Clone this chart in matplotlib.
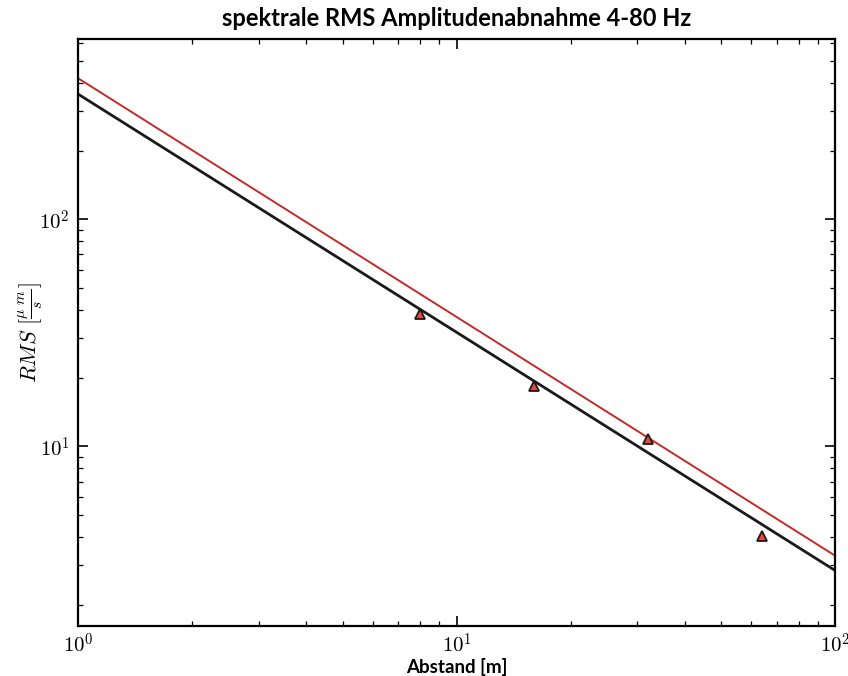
import matplotlib
matplotlib.use('Agg')
import matplotlib.pyplot as plt
from matplotlib.ticker import FuncFormatter
import numpy as np

plt.rcParams['mathtext.fontset'] = 'cm'

# measured RMS amplitudes at the geophone distances
abstand = [8, 16, 32, 64]
rms = [38.4, 18.5, 10.8, 4.04]

# power-law fits, end points at 1 m and 100 m
fit_x = [1, 100]
fit_black = [356, 2.84]
fit_red = [418, 3.30]

fig = plt.figure(figsize=(8.48, 6.76), dpi=100)
ax = fig.add_axes([0.092, 0.074, 0.893, 0.869])

ax.loglog(fit_x, fit_black, color='#1a1a1a', lw=2.0)
ax.loglog(fit_x, fit_red, color='#c42a2a', lw=1.4)
ax.loglog(abstand, rms, linestyle='none', marker='^', markersize=7,
          markerfacecolor='#e8473a', markeredgecolor='#1a1a1a', markeredgewidth=1.3)

ax.set_xlim(1, 100)
ax.set_ylim(1.62, 625)

# decade labels in computer modern
pow10 = FuncFormatter(lambda v, p: r'$10^{%d}$' % int(round(np.log10(v))))
ax.xaxis.set_major_formatter(pow10)
ax.yaxis.set_major_formatter(pow10)

ax.tick_params(which='both', direction='in', top=True, right=True, labelsize=15)
ax.tick_params(which='major', length=7, width=1.2)
ax.tick_params(which='minor', length=3.5, width=0.9)
ax.tick_params(axis='x', pad=5)
ax.tick_params(axis='y', pad=6)
for s in ax.spines.values():
    s.set_linewidth(1.6)

ax.set_title('spektrale RMS Amplitudenabnahme 4-80 Hz', fontsize=17,
             family='Lato', fontweight='bold', pad=9)
ax.set_xlabel('Abstand [m]', fontsize=13.5, family='Lato', fontweight='bold')
ax.xaxis.set_label_coords(0.5, -0.055)
ax.set_ylabel(r'$RMS\ [\frac{\mu\ m}{s}]$', fontsize=16)
ax.yaxis.set_label_coords(-0.043, 0.5)

fig.savefig('out.png', dpi=100)
